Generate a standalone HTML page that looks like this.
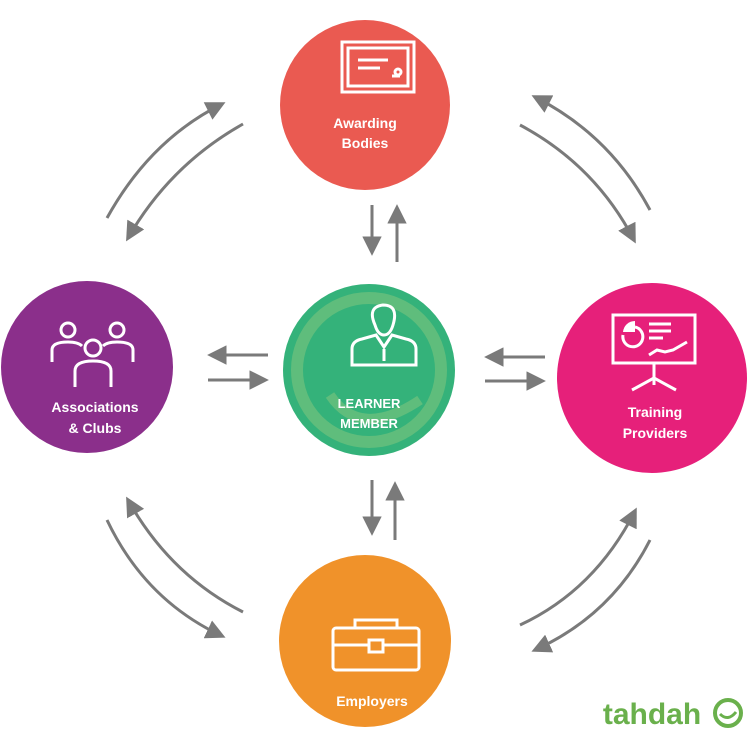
<!DOCTYPE html>
<html><head><meta charset="utf-8"><style>
html,body{margin:0;padding:0;background:#fff;}
svg{display:block}
text{font-family:"Liberation Sans",sans-serif;font-weight:bold;fill:#fff;text-anchor:middle}
</style></head><body>
<svg width="750" height="747" viewBox="0 0 750 747" xmlns="http://www.w3.org/2000/svg">
<defs>
<marker id="ah" viewBox="0 0 10 10" refX="8" refY="5" markerWidth="6.5" markerHeight="6.5" orient="auto-start-reverse">
<path d="M0,0 L10,5 L0,10 z" fill="#7a7a7a"/></marker>
</defs>
<g stroke="#7a7a7a" stroke-width="3" fill="none" marker-end="url(#ah)">
<path d="M107,218 Q150,140 222,104"/>
<path d="M243,124 Q170,165 128,238"/>
<path d="M520,125 Q595,165 634,240"/>
<path d="M650,210 Q610,135 535,97"/>
<path d="M107,520 Q145,600 222,636"/>
<path d="M243,612 Q170,575 128,500"/>
<path d="M520,625 Q595,590 635,511"/>
<path d="M650,540 Q612,615 535,650"/>
<path d="M372,205 L372,252"/>
<path d="M397,262 L397,208"/>
<path d="M372,480 L372,532"/>
<path d="M395,540 L395,485"/>
<path d="M268,355 L211,355"/>
<path d="M208,380 L265,380"/>
<path d="M545,357 L488,357"/>
<path d="M485,381 L542,381"/>
</g>
<circle cx="365" cy="105" r="85" fill="#ea5a51"/>
<circle cx="87" cy="367" r="86" fill="#8b2f8b"/>
<circle cx="652" cy="378" r="95" fill="#e6207a"/>
<circle cx="365" cy="641" r="86" fill="#f0922a"/>
<circle cx="369" cy="370" r="86" fill="#34b27a"/>
<circle cx="369" cy="370" r="72" fill="none" stroke="#5fbd7c" stroke-width="12"/>
<path d="M330,395 Q360,440 420,400" fill="none" stroke="#5fbd7c" stroke-width="10"/>

<g fill="none" stroke="#fff" stroke-width="3">
<rect x="342" y="42" width="72" height="50"/>
<rect x="348" y="48" width="60" height="38"/>
<path d="M358,60h30M358,68h22M392,76h8"/>
<circle cx="398" cy="72" r="3"/>
<path d="M375,325 q-8,-18 8,-20 q16,0 10,20 q-3,10 -9,10 q-6,0 -9,-10z"/>
<path d="M352,365 v-16 q0,-8 10,-10 l14,-4 l8,12 l8,-12 l14,4 q10,2 10,10 v16 z"/>
<path d="M384,349 v12"/>
<circle cx="68" cy="330" r="7"/><circle cx="117" cy="330" r="7"/><circle cx="93" cy="348" r="8"/>
<path d="M52,362 v-12 q0,-8 16,-8 q10,0 14,4"/>
<path d="M133,362 v-12 q0,-8 -16,-8 q-10,0 -14,4"/>
<path d="M75,387 v-16 q0,-10 18,-10 q18,0 18,10 v16"/>
<rect x="613" y="315" width="82" height="48"/>
<path d="M654,363 v22 M654,378 l-22,12 M654,378 l22,12"/>
<path d="M623,335 a10,10 0 1,0 12,-8"/>
<path d="M649,324h22M649,331h22M649,338h14"/>
<path d="M649,355 l8,-5 l8,2 l8,-2 l14,-8"/>
<rect x="333" y="628" width="86" height="42" rx="3"/>
<path d="M355,628 v-8 h42 v8"/>
<path d="M333,645 h36 M383,645 h36"/>
<rect x="369" y="640" width="14" height="12"/>
</g>
<path d="M623,332 a12,12 0 0,1 12,-11 v11 z" fill="#fff"/>

<text x="365" y="128" font-size="14">Awarding</text>
<text x="365" y="148" font-size="14">Bodies</text>
<text x="95" y="412" font-size="14">Associations</text>
<text x="95" y="433" font-size="14">&amp; Clubs</text>
<text x="655" y="417" font-size="14">Training</text>
<text x="655" y="438" font-size="14">Providers</text>
<text x="369" y="408" font-size="13" font-weight="normal">LEARNER</text>
<text x="369" y="428" font-size="13" font-weight="normal">MEMBER</text>
<text x="372" y="706" font-size="14">Employers</text>
<text x="652" y="724" font-size="30" style="fill:#6ab04c">tahdah</text>
<circle cx="728" cy="713" r="13" fill="none" stroke="#6ab04c" stroke-width="4"/>
<path d="M720,714 q8,8 16,-2" fill="none" stroke="#6ab04c" stroke-width="3"/>
</svg>
</body></html>
